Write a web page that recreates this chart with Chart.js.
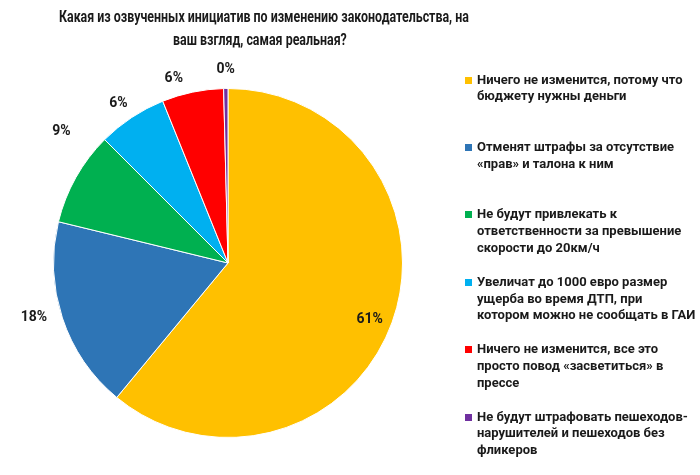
<!DOCTYPE html>
<html>
<head>
    <meta charset="utf-8">
    <title>Инициативы по изменению законодательства</title>
    <script src="https://cdn.jsdelivr.net/npm/chart.js"></script>
    <style>
        body { margin: 0; background: #fff; }
        .wrap { position: relative; width: 700px; height: 475px; }
        #pieChart { position: absolute; left: 0; top: 0; }
        .title {
            position: absolute; left: 0; top: 5px; width: 520px;
            text-align: center; font: bold 16px Roboto, sans-serif;
            line-height: 23px; color: #1a1a1a;
        }
        .title span { display: inline-block; white-space: nowrap; transform-origin: center; }
        .legend { position: absolute; left: 465px; top: 0; font: bold 13px Roboto, sans-serif; color: #1a1a1a; }
        .legend-item { position: absolute; left: 0; white-space: nowrap; line-height: 16.7px; }
        .legend-item span.box { position: absolute; left: 0; top: 5px; width: 7px; height: 7px; }
        .legend-item div { margin-left: 12px; }
    </style>
</head>
<body>
<div class="wrap">
    <canvas id="pieChart" width="700" height="475"></canvas>
    <div class="title" id="title"></div>
    <div class="legend" id="legend"></div>
</div>

<script>
    const titleLines = ['Какая из озвученных инициатив по изменению законодательства, на', 'ваш взгляд, самая реальная?'];
    // ответы (строки подписи для легенды)
    const answers = [
        ['Ничего не изменится, потому что', 'бюджету нужны деньги'],
        ['Отменят штрафы за отсутствие', '«прав» и талона к ним'],
        ['Не будут привлекать к', 'ответственности за превышение', 'скорости до 20км/ч'],
        ['Увеличат до 1000 евро размер', 'ущерба во время ДТП, при', 'котором можно не сообщать в ГАИ'],
        ['Ничего не изменится, все это', 'просто повод «засветиться» в', 'прессе'],
        ['Не будут штрафовать пешеходов-', 'нарушителей и пешеходов без', 'фликеров']
    ];
    // доли ответов, %
    const shares = [61.0, 17.8, 8.7, 6.4, 5.7, 0.4];
    const colors = ['#FFC000', '#2E75B6', '#00B050', '#00B0F0', '#FF0000', '#7030A0'];

    // где ставить подписи: доля радиуса и сдвиг от середины сектора (градусы)
    const labelRadius = [0.874, 1.155, 1.217, 1.109, 1.10, 1.11];
    const labelShift = [2, 2.7, 9, -1, -4.7, 0];

    const pctLabels = {
        id: 'pctLabels',
        afterDatasetsDraw(chart) {
            const ctx = chart.ctx;
            const meta = chart.getDatasetMeta(0);
            ctx.save();
            ctx.font = 'bold 14px Roboto, sans-serif';
            ctx.fillStyle = '#1a1a1a';
            ctx.textAlign = 'center';
            ctx.textBaseline = 'middle';
            meta.data.forEach((arc, i) => {
                const mid = (arc.startAngle + arc.endAngle) / 2 + labelShift[i] * Math.PI / 180;
                const r = arc.outerRadius * labelRadius[i];
                ctx.fillText(Math.round(shares[i]) + '%', arc.x + Math.cos(mid) * r, arc.y + Math.sin(mid) * r);
            });
            ctx.restore();
        }
    };

    new Chart(document.getElementById('pieChart'), {
        type: 'pie',
        data: {
            labels: answers.map(a => a.join(' ')),
            datasets: [{
                data: shares,
                backgroundColor: colors,
                borderColor: '#fff',
                borderWidth: 1
            }]
        },
        options: {
            responsive: false,
            animation: false,
            layout: { padding: { left: 53, right: 297, top: 88, bottom: 37 } },
            plugins: {
                legend: { display: false },
                tooltip: { enabled: false }
            }
        },
        plugins: [pctLabels]
    });

    // заголовок: ужимаем по ширине как в оригинале
    const title = document.getElementById('title');
    title.innerHTML = titleLines.map(t => `<span>${t}</span>`).join('<br>');
    const spans = title.querySelectorAll('span');
    const k = 410 / spans[0].getBoundingClientRect().width;
    spans.forEach(s => s.style.transform = `scaleX(${k})`);

    // легенда справа
    const legend = document.getElementById('legend');
    answers.forEach((lines, i) => {
        const item = document.createElement('div');
        item.className = 'legend-item';
        item.style.top = (71.6 + i * 67.4) + 'px';
        item.innerHTML = `<span class="box" style="background:${colors[i]}"></span><div>${lines.join('<br>')}</div>`;
        legend.appendChild(item);
    });
</script>
</body>
</html>
